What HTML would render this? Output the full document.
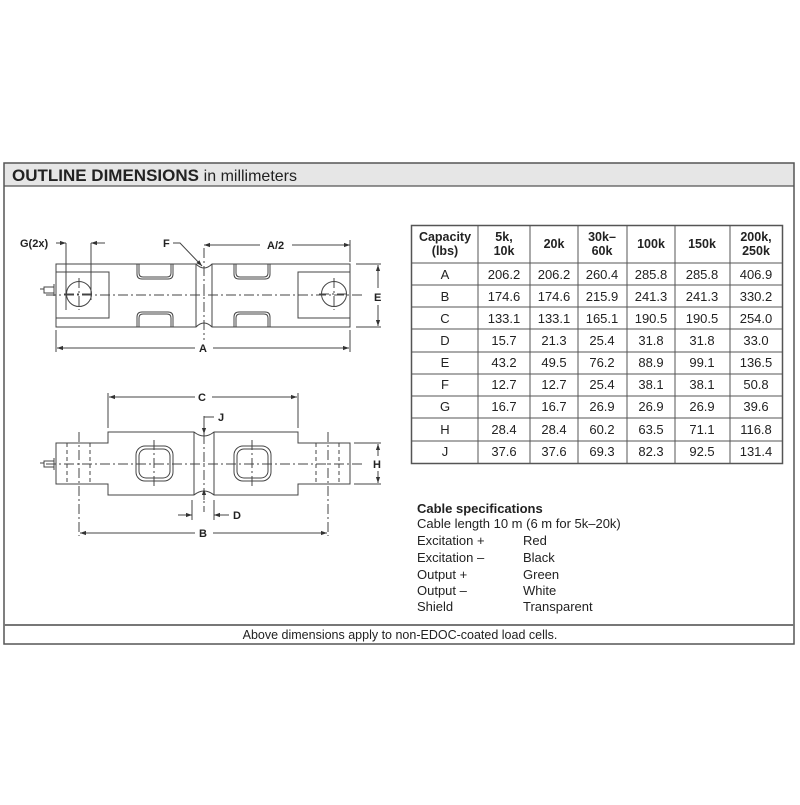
<!DOCTYPE html>
<html><head><style>
body{margin:0;background:#fff;width:800px;height:800px;overflow:hidden}
svg text{font-family:"Liberation Sans",Arial,sans-serif;fill:#222}
</style></head><body>
<svg width="800" height="800" viewBox="0 0 800 800" xmlns="http://www.w3.org/2000/svg">
<defs>
<marker id="ar" viewBox="0 0 10 10" refX="10" refY="5" markerWidth="7" markerHeight="6" orient="auto-start-reverse"><path d="M0,1.5 L10,5 L0,8.5z" fill="#333"/></marker>
</defs>
<rect x="4" y="163" width="790" height="23" fill="#e6e6e6"/>
<rect x="4" y="163" width="790" height="481" fill="none" stroke="#555" stroke-width="1.5"/>
<line x1="4" y1="186" x2="794" y2="186" stroke="#555" stroke-width="1.2"/>
<line x1="4" y1="625" x2="794" y2="625" stroke="#777" stroke-width="2"/>
<text x="12" y="181" font-size="17" font-weight="bold" fill="#111" textLength="285" lengthAdjust="spacingAndGlyphs">OUTLINE DIMENSIONS <tspan font-weight="normal" font-size="16">in millimeters</tspan></text>
<text x="400" y="639" font-size="12.5" text-anchor="middle">Above dimensions apply to non-EDOC-coated load cells.</text>

<g stroke="#444" stroke-width="1" fill="none">
<path d="M56,264 H196 Q204,272 212,264 H350 V327 H212 Q204,319 196,327 H56 Z" fill="#fff"/>
<rect x="56" y="272" width="53" height="46"/>
<rect x="298" y="272" width="52" height="46"/>
<circle cx="79" cy="294" r="12.5"/>
<circle cx="334" cy="294" r="12.5"/>
<path d="M137,264 V274 Q137,279 142,279 H168 Q173,279 173,274 V264"/>
<path d="M139,264 V273 Q139,277 143,277 H167 Q171,277 171,273 V264"/>
<path d="M234,264 V274 Q234,279 239,279 H265 Q270,279 270,274 V264"/>
<path d="M236,264 V273 Q236,277 240,277 H264 Q268,277 268,273 V264"/>
<path d="M137,327 V317 Q137,312 142,312 H168 Q173,312 173,317 V327"/>
<path d="M139,327 V318 Q139,314 143,314 H167 Q171,314 171,318 V327"/>
<path d="M234,327 V317 Q234,312 239,312 H265 Q270,312 270,317 V327"/>
<path d="M236,327 V318 Q236,314 240,314 H264 Q268,314 268,318 V327"/>
<line x1="196" y1="264" x2="196" y2="327"/><line x1="212" y1="264" x2="212" y2="327"/>
<rect x="44" y="287" width="10" height="6" fill="#fff"/><line x1="54" y1="284" x2="54" y2="296"/><line x1="40" y1="289" x2="44" y2="289"/>
<g stroke-dasharray="10,3,2,3">
<line x1="46" y1="295" x2="362" y2="295"/>
<line x1="204" y1="248" x2="204" y2="340"/>
<line x1="79" y1="278" x2="79" y2="310"/><line x1="64" y1="294" x2="94" y2="294"/>
<line x1="334" y1="278" x2="334" y2="310"/><line x1="319" y1="294" x2="349" y2="294"/>
</g>
<line x1="66" y1="243" x2="66" y2="310"/><line x1="91" y1="243" x2="91" y2="300"/>
<line x1="56" y1="243" x2="66" y2="243" marker-end="url(#ar)"/>
<line x1="105" y1="243" x2="91" y2="243" marker-end="url(#ar)"/>
<path d="M173,243 H180 L202,266" marker-end="url(#ar)"/>
<line x1="204" y1="245" x2="260" y2="245" marker-start="url(#ar)"/>
<line x1="292" y1="245" x2="350" y2="245" marker-end="url(#ar)"/>
<line x1="350" y1="240" x2="350" y2="262"/>
<line x1="56" y1="330" x2="56" y2="352"/><line x1="350" y1="330" x2="350" y2="352"/>
<line x1="57" y1="348" x2="195" y2="348" marker-start="url(#ar)"/>
<line x1="213" y1="348" x2="349" y2="348" marker-end="url(#ar)"/>
<line x1="356" y1="264" x2="381" y2="264"/><line x1="356" y1="327" x2="381" y2="327"/>
<line x1="378" y1="265" x2="378" y2="288" marker-start="url(#ar)"/>
<line x1="378" y1="305" x2="378" y2="326" marker-end="url(#ar)"/>

<path d="M56,443 H108 V432 H194 Q204,440 214,432 H298 V443 H350 V484 H298 V495 H214 Q204,487 194,495 H108 V484 H56 Z" fill="#fff"/>
<line x1="194" y1="432" x2="194" y2="495"/><line x1="214" y1="432" x2="214" y2="495"/>
<rect x="136" y="446" width="37" height="35" rx="9"/>
<rect x="139" y="449" width="31" height="29" rx="7"/>
<rect x="234" y="446" width="37" height="35" rx="9"/>
<rect x="237" y="449" width="31" height="29" rx="7"/>
<rect x="44" y="461" width="10" height="6" fill="#fff"/><line x1="54" y1="458" x2="54" y2="470"/><line x1="40" y1="463" x2="44" y2="463"/>
<g stroke-dasharray="4,3">
<line x1="67" y1="443" x2="67" y2="484"/><line x1="90" y1="443" x2="90" y2="484"/>
<line x1="316" y1="443" x2="316" y2="484"/><line x1="339" y1="443" x2="339" y2="484"/>
</g>
<g stroke-dasharray="10,3,2,3">
<line x1="46" y1="464" x2="362" y2="464"/>
<line x1="79" y1="432" x2="79" y2="536"/><line x1="328" y1="432" x2="328" y2="536"/>
<line x1="204" y1="416" x2="204" y2="512"/>
<line x1="154" y1="440" x2="154" y2="488"/><line x1="252" y1="440" x2="252" y2="488"/>
</g>
<line x1="108" y1="393" x2="108" y2="428"/><line x1="298" y1="393" x2="298" y2="428"/>
<line x1="109" y1="397" x2="195" y2="397" marker-start="url(#ar)"/>
<line x1="212" y1="397" x2="297" y2="397" marker-end="url(#ar)"/>
<path d="M214,417 H204 V434" marker-end="url(#ar)"/>
<line x1="204" y1="500" x2="204" y2="489" marker-end="url(#ar)"/>
<line x1="192" y1="500" x2="192" y2="520"/><line x1="214" y1="500" x2="214" y2="520"/>
<line x1="178" y1="515" x2="192" y2="515" marker-end="url(#ar)"/>
<line x1="229" y1="515" x2="214" y2="515" marker-end="url(#ar)"/>
<line x1="80" y1="533" x2="195" y2="533" marker-start="url(#ar)"/>
<line x1="213" y1="533" x2="327" y2="533" marker-end="url(#ar)"/>
<line x1="354" y1="443" x2="381" y2="443"/><line x1="354" y1="484" x2="381" y2="484"/>
<line x1="378" y1="444" x2="378" y2="456" marker-start="url(#ar)"/>
<line x1="378" y1="471" x2="378" y2="483" marker-end="url(#ar)"/>
</g>
<g font-size="11" font-weight="bold">
<text x="20" y="247">G(2x)</text>
<text x="163" y="247">F</text>
<text x="267" y="249">A/2</text>
<text x="199" y="352">A</text>
<text x="374" y="301">E</text>
<text x="198" y="401">C</text>
<text x="218" y="421">J</text>
<text x="233" y="519">D</text>
<text x="199" y="537">B</text>
<text x="373" y="468">H</text>
</g>

<g stroke="#555" stroke-width="1">
<rect x="411.5" y="225.5" width="371" height="238" fill="none" stroke-width="1.5"/>
<line x1="478" y1="225" x2="478" y2="463"/><line x1="530" y1="225" x2="530" y2="463"/>
<line x1="578" y1="225" x2="578" y2="463"/><line x1="627" y1="225" x2="627" y2="463"/>
<line x1="675" y1="225" x2="675" y2="463"/><line x1="730" y1="225" x2="730" y2="463"/>
<line x1="411" y1="263" x2="782" y2="263"/><line x1="411" y1="285" x2="782" y2="285"/>
<line x1="411" y1="307" x2="782" y2="307"/><line x1="411" y1="329" x2="782" y2="329"/>
<line x1="411" y1="352" x2="782" y2="352"/><line x1="411" y1="374" x2="782" y2="374"/>
<line x1="411" y1="396" x2="782" y2="396"/><line x1="411" y1="418" x2="782" y2="418"/>
<line x1="411" y1="441" x2="782" y2="441"/>
</g>
<g font-size="13" text-anchor="middle">
<g font-weight="bold" font-size="12.5">
<text x="445" y="241">Capacity</text><text x="445" y="255">(lbs)</text>
<text x="504" y="241">5k,</text><text x="504" y="255">10k</text>
<text x="554" y="248">20k</text>
<text x="602" y="241">30k–</text><text x="602" y="255">60k</text>
<text x="651" y="248">100k</text>
<text x="702" y="248">150k</text>
<text x="756" y="241">200k,</text><text x="756" y="255">250k</text>
</g>
<g>
<text x="445" y="279">A</text><text x="504" y="279">206.2</text><text x="554" y="279">206.2</text><text x="602" y="279">260.4</text><text x="651" y="279">285.8</text><text x="702" y="279">285.8</text><text x="756" y="279">406.9</text>
<text x="445" y="301">B</text><text x="504" y="301">174.6</text><text x="554" y="301">174.6</text><text x="602" y="301">215.9</text><text x="651" y="301">241.3</text><text x="702" y="301">241.3</text><text x="756" y="301">330.2</text>
<text x="445" y="323">C</text><text x="504" y="323">133.1</text><text x="554" y="323">133.1</text><text x="602" y="323">165.1</text><text x="651" y="323">190.5</text><text x="702" y="323">190.5</text><text x="756" y="323">254.0</text>
<text x="445" y="345">D</text><text x="504" y="345">15.7</text><text x="554" y="345">21.3</text><text x="602" y="345">25.4</text><text x="651" y="345">31.8</text><text x="702" y="345">31.8</text><text x="756" y="345">33.0</text>
<text x="445" y="367">E</text><text x="504" y="367">43.2</text><text x="554" y="367">49.5</text><text x="602" y="367">76.2</text><text x="651" y="367">88.9</text><text x="702" y="367">99.1</text><text x="756" y="367">136.5</text>
<text x="445" y="389">F</text><text x="504" y="389">12.7</text><text x="554" y="389">12.7</text><text x="602" y="389">25.4</text><text x="651" y="389">38.1</text><text x="702" y="389">38.1</text><text x="756" y="389">50.8</text>
<text x="445" y="411">G</text><text x="504" y="411">16.7</text><text x="554" y="411">16.7</text><text x="602" y="411">26.9</text><text x="651" y="411">26.9</text><text x="702" y="411">26.9</text><text x="756" y="411">39.6</text>
<text x="445" y="434">H</text><text x="504" y="434">28.4</text><text x="554" y="434">28.4</text><text x="602" y="434">60.2</text><text x="651" y="434">63.5</text><text x="702" y="434">71.1</text><text x="756" y="434">116.8</text>
<text x="445" y="456">J</text><text x="504" y="456">37.6</text><text x="554" y="456">37.6</text><text x="602" y="456">69.3</text><text x="651" y="456">82.3</text><text x="702" y="456">92.5</text><text x="756" y="456">131.4</text>
</g>
</g>

<g font-size="13">
<text x="417" y="513" font-weight="bold">Cable specifications</text>
<text x="417" y="528">Cable length 10 m (6 m for 5k–20k)</text>
<text x="417" y="545">Excitation +</text><text x="523" y="545">Red</text>
<text x="417" y="562">Excitation –</text><text x="523" y="562">Black</text>
<text x="417" y="579">Output +</text><text x="523" y="579">Green</text>
<text x="417" y="595">Output –</text><text x="523" y="595">White</text>
<text x="417" y="611">Shield</text><text x="523" y="611">Transparent</text>
</g>
</svg>
</body></html>
